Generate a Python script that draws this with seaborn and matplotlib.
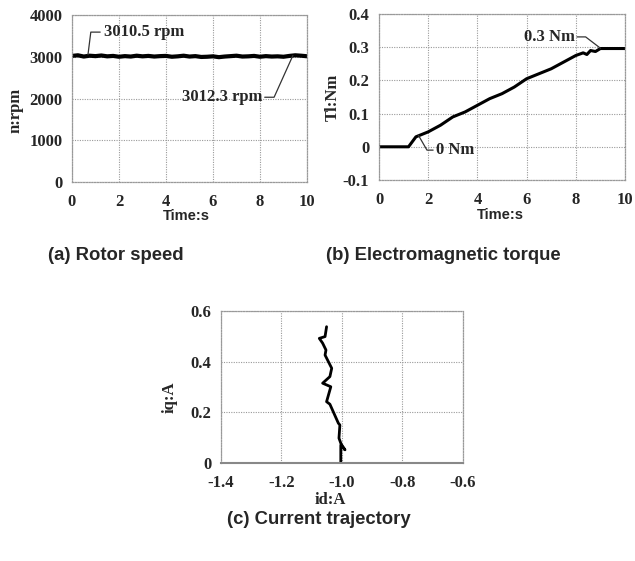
import matplotlib
matplotlib.use("Agg")
import matplotlib.pyplot as plt
import seaborn as sns
import pandas as pd

# (a) rotor speed
speed_t = [0, 0.25, 0.5, 0.75, 1, 1.25, 1.5, 1.75, 2, 2.25, 2.5, 2.75, 3, 3.25, 3.5, 3.75,
           4, 4.25, 4.5, 4.75, 5, 5.25, 5.5, 5.75, 6, 6.25, 6.5, 6.75, 7, 7.25, 7.5, 7.75,
           8, 8.25, 8.5, 8.75, 9, 9.25, 9.5, 9.75, 10]
speed_n = [3020, 3035, 3005, 3025, 3015, 3030, 3010, 3020, 3000, 3015, 3005, 3025, 3010, 3020,
           3005, 3015, 3020, 3000, 3010, 3025, 3005, 3015, 2995, 3000, 3010, 2990, 3005, 3015,
           3025, 3005, 3010, 3020, 3000, 3015, 3005, 3010, 3000, 3020, 3035, 3025, 3012]

# (b) load torque
torque_t = [0, 1.2, 1.5, 2, 2.5, 3, 3.5, 4, 4.5, 5, 5.5, 6, 6.5, 7, 7.5, 8, 8.3, 8.45, 8.6,
            8.8, 9.0, 10]
torque_v = [0, 0, 0.03, 0.045, 0.065, 0.09, 0.105, 0.125, 0.145, 0.16, 0.18, 0.205, 0.22,
            0.235, 0.255, 0.275, 0.283, 0.278, 0.29, 0.287, 0.296, 0.296]

# (c) id-iq trajectory
traj_id = [-1.004, -1.004, -0.990, -1.003, -1.010, -1.007, -1.012, -1.040, -1.051, -1.037,
           -1.064, -1.040, -1.034, -1.056, -1.053, -1.064, -1.075, -1.056, -1.051]
traj_iq = [0.0, 0.07, 0.052, 0.075, 0.098, 0.150, 0.157, 0.232, 0.242, 0.301, 0.315, 0.341,
           0.374, 0.426, 0.446, 0.473, 0.492, 0.499, 0.538]

captions = ["(a) Rotor speed", "(b) Electromagnetic torque", "(c) Current trajectory"]

sns.set_style("white")
serif = dict(family="Liberation Serif", weight="bold", size=12)
sans = dict(family="Liberation Sans", weight="bold", size=10.5)
cap = dict(family="Liberation Sans", weight="bold", size=13.3)

fig = plt.figure(figsize=(6.35, 5.61), dpi=100)
W, H = 635, 561


def make_ax(x0, y0, x1, y1):
    return fig.add_axes([x0 / W, 1 - y1 / H, (x1 - x0) / W, (y1 - y0) / H])


def style(ax):
    ax.grid(True, color="#999999", linestyle=(0, (1, 1.2)), linewidth=0.8)
    for s in ax.spines.values():
        s.set_color("#999999")
        s.set_linestyle((0, (1, 1.2)))
        s.set_linewidth(0.9)
    ax.tick_params(axis="x", length=0, pad=8.5)
    ax.tick_params(axis="y", length=0, pad=7)
    for lab in ax.get_xticklabels() + ax.get_yticklabels():
        lab.set_fontfamily("Liberation Serif")
        lab.set_fontweight("bold")
        lab.set_fontsize(12)
    ax.set_xlabel("")
    ax.set_ylabel("")


def fig_text(x, y, s, **kw):
    fig.text(x / W, 1 - y / H, s, ha="center", va="center", **kw)


# panel a
ax1 = make_ax(72, 15, 307, 182)
sns.lineplot(x=speed_t, y=speed_n, ax=ax1, color="black", linewidth=3.0, estimator=None)
ax1.set_xlim(0, 10)
ax1.set_ylim(0, 4000)
ax1.set_xticks(range(0, 11, 2))
ax1.set_yticks(range(0, 4001, 1000))
style(ax1)
fig_text(186, 216, "Time:s", **sans)
fig_text(15, 110, "n:rpm", rotation=90, **serif)
ax1.plot([0.68, 0.8, 1.2], [3050, 3590, 3590], color="#333333", lw=0.9)
ax1.text(1.35, 3600, "3010.5 rpm", ha="left", va="center", **serif)
ax1.plot([8.2, 8.6, 9.4], [2030, 2030, 3030], color="#333333", lw=0.9)
ax1.text(8.1, 2030, "3012.3 rpm", ha="right", va="center", **serif)

# panel b
ax2 = make_ax(379, 14, 625, 180)
sns.lineplot(x=torque_t, y=torque_v, ax=ax2, color="black", linewidth=2.2, estimator=None)
ax2.set_xlim(0, 10)
ax2.set_ylim(-0.1, 0.4)
ax2.set_xticks(range(0, 11, 2))
ax2.set_yticks([-0.1, 0, 0.1, 0.2, 0.3, 0.4])
ax2.set_yticklabels(["-0.1", "0", "0.1", "0.2", "0.3", "0.4"])
style(ax2)
fig_text(500, 215, "Time:s", **sans)
fig_text(333, 97, "Tl:Nm", rotation=90, **serif)
ax2.plot([8.05, 8.4, 9.0], [0.331, 0.331, 0.297], color="#333333", lw=0.9)
ax2.text(7.95, 0.331, "0.3 Nm", ha="right", va="center", **serif)
ax2.plot([1.6, 1.95, 2.2], [0.035, -0.01, -0.01], color="#333333", lw=0.9)
ax2.text(2.3, -0.01, "0 Nm", ha="left", va="center", **serif)

# panel c
ax3 = make_ax(221, 311, 463, 463)
df = pd.DataFrame({"id": traj_id, "iq": traj_iq})
sns.lineplot(data=df, x="id", y="iq", ax=ax3, sort=False, estimator=None,
             color="black", linewidth=2.0)
ax3.set_xlim(-1.4, -0.6)
ax3.set_ylim(0, 0.6)
ax3.set_xticks([-1.4, -1.2, -1.0, -0.8, -0.6])
ax3.set_xticklabels(["-1.4", "-1.2", "-1.0", "-0.8", "-0.6"])
ax3.set_yticks([0, 0.2, 0.4, 0.6])
ax3.set_yticklabels(["0", "0.2", "0.4", "0.6"])
style(ax3)
ax3.spines["bottom"].set_linestyle("-")
ax3.spines["bottom"].set_color("#888888")
ax3.spines["bottom"].set_linewidth(1.5)
fig_text(330, 500, "id:A", **serif)
fig_text(170, 397, "iq:A", rotation=90, **serif)

# captions
fig_text(116, 256, captions[0], **cap)
fig_text(443, 256, captions[1], **cap)
fig_text(319, 520, captions[2], **cap)

fig.savefig("out.png", dpi=100)
